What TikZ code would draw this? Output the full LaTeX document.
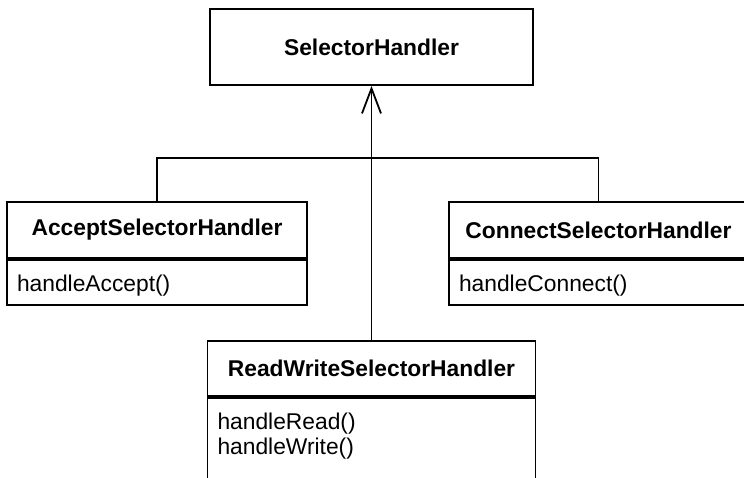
\documentclass[tikz,border=0pt]{standalone}
\usepackage{fontspec}
\setmainfont{Liberation Sans}
\usetikzlibrary{arrows.meta}
% method compartment: width, height, lines of text
\newcommand\methodlist[3]{\parbox[c][#2][t]{#1}{\leftskip=10pt\vspace*{15pt}#3}}
\begin{document}
\begin{tikzpicture}[x=1pt,y=-1pt,line width=1.8pt,
  classname/.style={draw,inner sep=0pt,font=\fontsize{22.8}{25}\selectfont\bfseries},
  members/.style={draw,inner sep=0pt,anchor=north,font=\fontsize{22.8}{25}\selectfont},
  inherit/.style={-{Straight Barb[length=25pt,width=19pt]}}]
\useasboundingbox (0,0) rectangle (744,478);
\clip (0,0) rectangle (744,478);

% base class
\node[classname,minimum width=323pt,minimum height=76pt] (sel) at (371.5,47) {SelectorHandler};

% subclasses: name compartment + method compartment
\node[classname,minimum width=300pt,minimum height=56pt] (acc) at (157,230) {AcceptSelectorHandler};
\node[members] (accm) at (acc.south) {\methodlist{300pt}{45pt}{handleAccept()}};

\node[classname,minimum width=299pt,minimum height=56pt] (con) at (598.5,230) {ConnectSelectorHandler};
\node[members] (conm) at (con.south) {\methodlist{299pt}{45pt}{handleConnect()}};

\node[classname,minimum width=328pt,minimum height=55pt] (rw) at (371.5,368.5) {ReadWriteSelectorHandler};
\node[members] (rwm) at (rw.south) {\methodlist{328pt}{120pt}{handleRead()\\handleWrite()}};

% generalization connectors
\coordinate (bus) at (371.5,158);
\draw (acc.north) -- (acc.north |- bus) -| (con.north);
\draw[inherit] (rw.north) -- (sel.south);
\end{tikzpicture}
\end{document}
